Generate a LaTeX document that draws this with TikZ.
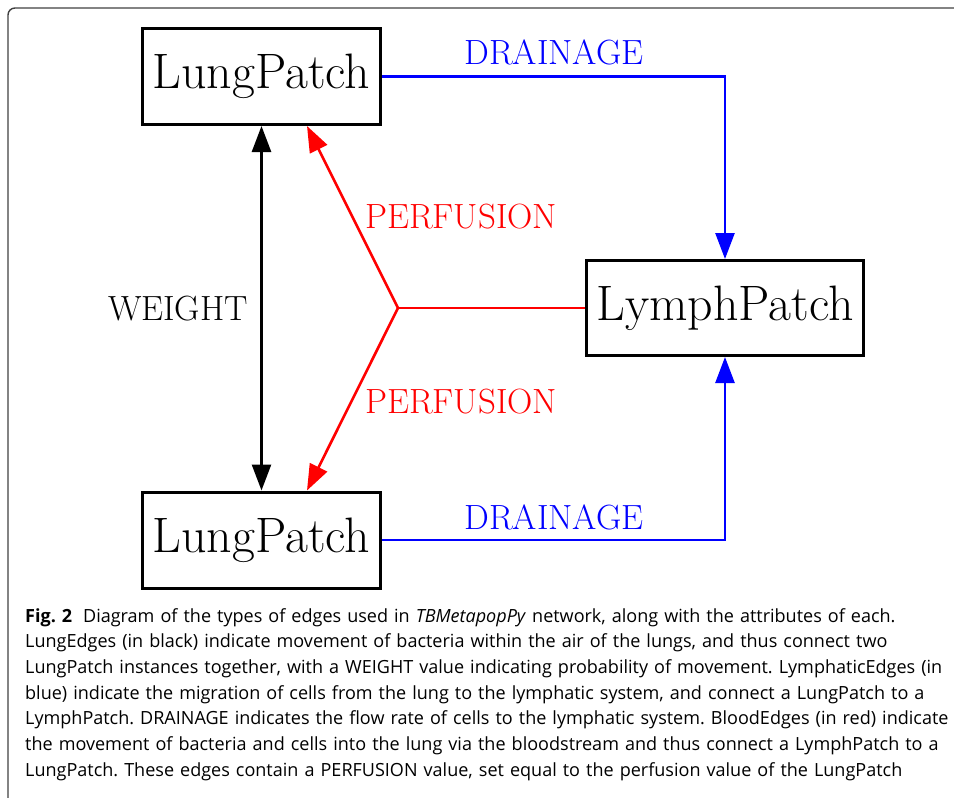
\documentclass[tikz,border=0pt]{standalone}
\usepackage{fontspec}
\newfontfamily\capfont[FakeStretch=0.993]{Open Sans}
\usetikzlibrary{arrows.meta}
\begin{document}
\begin{tikzpicture}[x=1pt,y=-1pt,
  patch/.style={draw=black, line width=3pt, minimum width=238pt, minimum height=96pt,
    inner sep=0pt, font=\fontsize{49.8}{60}\selectfont},
  lbl/.style={font=\fontsize{35}{42}\selectfont, inner sep=0pt},
  tip/.tip={Triangle[length=26pt,width=19pt]},
  edgeline/.style={line width=2.6pt},
  arr/.style={edgeline, -tip},
  frameline/.style={line width=1.4pt, draw=black!75, rounded corners=7pt}]
\useasboundingbox (0,0) rectangle (954,798);
\draw[frameline] (8,830) -- (8,8) -- (990,8);
% nodes
\node[patch] (lt) at (261.5,76.5) {LungPatch};
\node[patch] (lb) at (261.5,540) {LungPatch};
\node[patch, minimum width=277pt, minimum height=95pt] (ly) at (725,308) {LymphPatch};
\coordinate (j) at (398,308);
% blue edges
\draw[arr, blue] (lt.east) -| (ly.north);
\draw[arr, blue] (lb.east) -| (ly.south);
% black edge
\draw[edgeline, tip-tip] (lt.south) -- (lb.north);
% red edges
\draw[edgeline, red] (ly.west) -- (j);
\draw[arr, red] (j) -- ([xshift=166pt]lt.south west);
\draw[arr, red] (j) -- ([xshift=166pt]lb.north west);
% labels
\node[lbl, text=blue] (d1) at (554,52) {DRAINAGE};
\node[lbl, text=blue] (d2) at (554,517) {DRAINAGE};
\node[lbl] (w) at (178,308.5) {WEIGHT};
\node[lbl, text=red] (p1) at (461,216.5) {PERFUSION};
\node[lbl, text=red] (p2) at (461,401.5) {PERFUSION};
% caption
\node[anchor=base west, inner sep=0pt, text width=928pt, align=left,
      font=\capfont\fontsize{18.15}{25.7}\selectfont\frenchspacing] (cap) at (25,622)
{\textbf{Fig. 2}\hspace{0.6em}Diagram of the types of edges used in \textit{TBMetapopPy} network, along with the attributes of each.\\
LungEdges (in black) indicate movement of bacteria within the air of the lungs, and thus connect two\\
LungPatch instances together, with a WEIGHT value indicating probability of movement. LymphaticEdges (in\\
blue) indicate the migration of cells from the lung to the lymphatic system, and connect a LungPatch to a\\
LymphPatch. DRAINAGE indicates the flow rate of cells to the lymphatic system. BloodEdges (in red) indicate\\
the movement of bacteria and cells into the lung via the bloodstream and thus connect a LymphPatch to a\\
LungPatch. These edges contain a PERFUSION value, set equal to the perfusion value of the LungPatch};
\end{tikzpicture}
\end{document}
